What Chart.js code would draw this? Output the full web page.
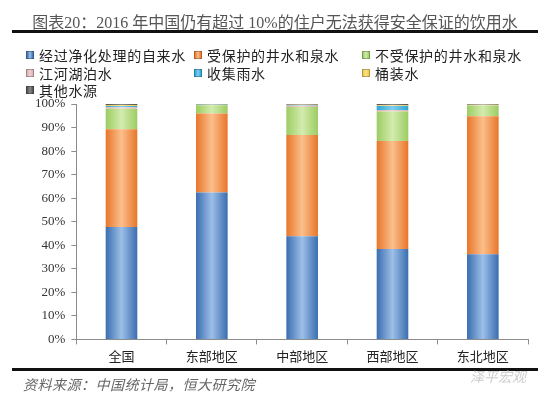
<!DOCTYPE html>
<html>
<head>
<meta charset="utf-8">
<script src="https://cdn.jsdelivr.net/npm/chart.js@4.4.1/dist/chart.umd.min.js"></script>
<style>
  html, body { margin: 0; padding: 0; background: #fff; }
  #page { position: relative; width: 550px; height: 397px; overflow: hidden; }
  #chart { position: absolute; left: 0; top: 0; }
  .title {
    position: absolute; left: 0; width: 550px; top: 9px; text-align: center;
    font: 16px "Liberation Serif", "Noto Sans CJK SC", serif; color: #555;
  }
  .rule { position: absolute; left: 12px; width: 526px; height: 3px; background: #111; }
  .legend { position: absolute; left: 0; top: 45px; width: 550px; }
  .legend-item {
    position: absolute; display: flex; align-items: center; letter-spacing: 0.7px;
    font: 14px "Noto Sans CJK SC", sans-serif; color: #222; white-space: nowrap;
  }
  .legend-box { width: 8px; height: 8px; margin-right: 5px; box-sizing: border-box; border: 1px solid rgba(0,0,0,0.25); }
  .source {
    position: absolute; left: 23px; top: 374px; letter-spacing: 0.5px;
    font: italic 14px "Noto Sans CJK SC", sans-serif; color: #666;
  }
  .mark {
    position: absolute; left: 470px; top: 366px;
    font: italic 14px "Noto Sans CJK SC", sans-serif; color: #ccc;
  }
</style>
</head>
<body>
<div id="page">
  <canvas id="chart" width="550" height="397"></canvas>
  <div class="title">图表20：2016 年中国仍有超过 10%的住户无法获得安全保证的饮用水</div>
  <div class="rule" style="top:30px"></div>
  <div class="legend" id="legend"></div>
  <div class="rule" style="top:368px"></div>
  <div class="source">资料来源：中国统计局，恒大研究院</div>
  <div class="mark">泽平宏观</div>
</div>
<script>
'use strict';

// ---- data (percent of households) ----
const categories      = ['全国', '东部地区', '中部地区', '西部地区', '东北地区'];
const tapWater        = [47.7, 62.4, 43.8, 38.4, 36.2];
const protectedWell   = [41.6, 33.6, 43.0, 45.9, 58.6];
const unprotectedWell = [ 8.7,  3.5, 11.9, 12.5,  4.6];
const riverLake       = [ 0.6,  0.1,  0.6,  0.6,  0.1];
const rainWater       = [ 0.5,  0.1,  0.2,  1.8,  0.0];
const bottledWater    = [ 0.5,  0.1,  0.2,  0.3,  0.2];
const otherSource     = [ 0.4,  0.2,  0.3,  0.5,  0.3];
const yTicks          = [0, 10, 20, 30, 40, 50, 60, 70, 80, 90, 100];

const SERIES = [
  { label: '经过净化处理的自来水', data: tapWater,        edge: '#3a6db0', mid: '#9dbfe8', col: 0, row: 0 },
  { label: '受保护的井水和泉水',   data: protectedWell,   edge: '#e8762a', mid: '#fbbf8c', col: 1, row: 0 },
  { label: '不受保护的井水和泉水', data: unprotectedWell, edge: '#9ccc62', mid: '#d3ecae', col: 2, row: 0 },
  { label: '江河湖泊水',           data: riverLake,       edge: '#d9aeb0', mid: '#efd3d3', col: 0, row: 1 },
  { label: '收集雨水',             data: rainWater,       edge: '#2ba6d6', mid: '#7fd0ee', col: 1, row: 1 },
  { label: '桶装水',               data: bottledWater,    edge: '#efc845', mid: '#f9e38e', col: 2, row: 1 },
  { label: '其他水源',             data: otherSource,     edge: '#505050', mid: '#8a8a8a', col: 0, row: 2 },
];

const CAT_PCT = 0.35;

// horizontal gradient across each bar: dark edges, light centre
function barGradient(s) {
  return ctx => {
    const chart = ctx.chart;
    const xs = chart.scales && chart.scales.x;
    if (!xs || ctx.dataIndex == null || !chart.chartArea) return s.edge;
    const cx = xs.getPixelForValue(ctx.dataIndex);
    const half = xs.width / categories.length * CAT_PCT / 2;
    const g = chart.ctx.createLinearGradient(cx - half, 0, cx + half, 0);
    g.addColorStop(0, s.edge);
    g.addColorStop(0.5, s.mid);
    g.addColorStop(1, s.edge);
    return g;
  };
}

// legend as a fixed 3-column grid
const COL_X = [26, 194, 362];
const ROW_Y = [0, 18, 35];
document.getElementById('legend').innerHTML = SERIES.map(s => `
  <div class="legend-item" style="left:${COL_X[s.col]}px;top:${ROW_Y[s.row]}px">
    <div class="legend-box" style="background:linear-gradient(90deg,${s.edge},${s.mid},${s.edge})"></div>${s.label}
  </div>`).join('');

const AXIS_GREY = '#8c8c8c';

new Chart(document.getElementById('chart'), {
  type: 'bar',
  data: {
    labels: categories,
    datasets: SERIES.map(s => ({
      label: s.label,
      data: s.data,
      backgroundColor: barGradient(s),
      borderWidth: 0,
      categoryPercentage: CAT_PCT,
      barPercentage: 1,
    })),
  },
  options: {
    responsive: false,
    animation: false,
    layout: { padding: { top: 104, bottom: 29, left: 29, right: 22 } },
    plugins: { legend: { display: false }, tooltip: { enabled: false } },
    scales: {
      x: {
        stacked: true,
        border: { color: AXIS_GREY, width: 1 },
        grid: { drawOnChartArea: false, color: AXIS_GREY, tickLength: 5, offset: true },
        ticks: {
          color: '#222', padding: 4,
          font: { family: '"Noto Sans CJK SC", sans-serif', size: 13 },
        },
      },
      y: {
        stacked: true,
        min: 0, max: 100,
        afterBuildTicks: axis => { axis.ticks = yTicks.map(v => ({ value: v })); },
        border: { color: AXIS_GREY, width: 1 },
        grid: { drawOnChartArea: false, color: AXIS_GREY, tickLength: 5 },
        ticks: {
          color: '#333', padding: 6,
          font: { family: '"Liberation Serif", serif', size: 13 },
          callback: v => v + '%',
        },
      },
    },
  },
});
</script>
</body>
</html>
